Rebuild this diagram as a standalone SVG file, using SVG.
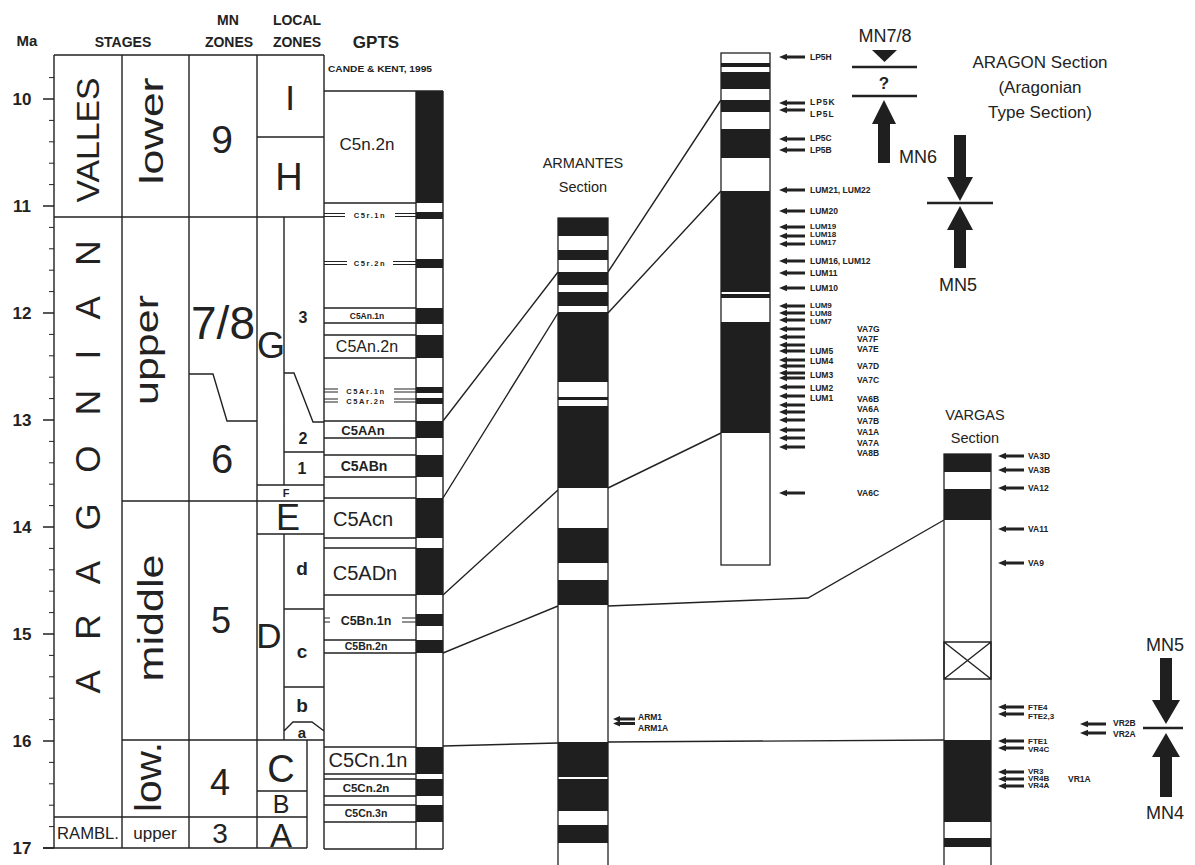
<svg xmlns="http://www.w3.org/2000/svg" width="1195" height="865" viewBox="0 0 1195 865">
<style>
.ln{stroke:#222;stroke-width:1.4;fill:none}
.lt{stroke:#222;stroke-width:1;fill:none}
.thk{stroke:#222;stroke-width:2.6;fill:none}
.bk{fill:#1f1f1f}
.wb{fill:#fff;stroke:#222;stroke-width:1.3}
text{font-family:"Liberation Sans",Arial,Helvetica,sans-serif;fill:#222}
.b{font-weight:bold}
.hd{font-size:14px;font-weight:bold;text-anchor:middle}
.ax{font-size:17px;font-weight:bold;text-anchor:middle}
.big{text-anchor:middle}
.sm{font-size:8.5px;font-weight:bold}
.xs{font-size:8px;font-weight:bold}
.tiny{font-size:7.5px;font-weight:bold;text-anchor:middle;letter-spacing:1.6px}
.gp{text-anchor:middle}
.ttl{font-size:14.5px;text-anchor:middle}
.mn{font-size:18px;text-anchor:middle}
</style>
<defs>
<path id="ar" d="M0,0 L8,-3.3 L8,-1.6 L26,-1.6 L26,1.6 L8,1.6 L8,3.3 Z" fill="#222"/>
<path id="ars" d="M0,0 L7,-3 L7,-1.4 L22,-1.4 L22,1.4 L7,1.4 L7,3 Z" fill="#222"/>
</defs>
<rect width="1195" height="865" fill="#fff"/>

<g id="axis">
<path class="ln" d="M54,55V848 M43,99H54 M43,206H54 M43,313H54 M43,420H54 M43,527H54 M43,634H54 M43,741H54 M43,848H54"/>
<path class="lt" d="M49,77.6H54 M49,120.4H54 M49,141.8H54 M49,163.2H54 M49,184.6H54 M49,227.4H54 M49,248.8H54 M49,270.2H54 M49,291.6H54 M49,334.4H54 M49,355.8H54 M49,377.2H54 M49,398.6H54 M49,441.4H54 M49,462.8H54 M49,484.2H54 M49,505.6H54 M49,548.4H54 M49,569.8H54 M49,591.2H54 M49,612.6H54 M49,655.4H54 M49,676.8H54 M49,698.2H54 M49,719.6H54 M49,762.4H54 M49,783.8H54 M49,805.2H54 M49,826.6H54"/>
<text class="b" x="27" y="46" font-size="15" text-anchor="middle">Ma</text>
<text class="ax" x="22" y="105">10</text>
<text class="ax" x="22" y="212">11</text>
<text class="ax" x="22" y="319">12</text>
<text class="ax" x="22" y="426">13</text>
<text class="ax" x="22" y="533">14</text>
<text class="ax" x="22" y="640">15</text>
<text class="ax" x="22" y="747">16</text>
<text class="ax" x="22" y="854">17</text>
</g>

<g id="headers">
<text class="hd" x="123" y="47">STAGES</text>
<text class="hd" x="228" y="25">MN</text>
<text class="hd" x="229" y="47">ZONES</text>
<text class="hd" x="297" y="25">LOCAL</text>
<text class="hd" x="297" y="47">ZONES</text>
<text class="b" x="376" y="48" font-size="17" text-anchor="middle">GPTS</text>
<text class="b" x="380" y="72" font-size="8.5" text-anchor="middle" textLength="104" lengthAdjust="spacingAndGlyphs">CANDE &amp; KENT, 1995</text>
</g>

<g id="stages-table">
<path class="ln" d="M54,55H324 M122,55V848 M189,55V848 M257,55V848 M324,55V849 M257,137H324 M54,217H324 M189,374H213L227,421H257 M284,217V485 M284,373H294L313,422H324 M284,452H324 M257,485H324 M122,501H324 M257,534H324 M284,534V740 M284,609H324 M284,687H324 M284,731L293,722H312L324,731 M122,740H324 M257,791H307 M54,817H307 M43,848H307 M307,740V848"/>
<text transform="translate(99,140) rotate(-90)" font-size="31" text-anchor="middle" textLength="125" lengthAdjust="spacingAndGlyphs">VALLES</text>
<text transform="translate(100,467) rotate(-90)" font-size="35" text-anchor="middle" textLength="453" lengthAdjust="spacing">ARAGONIAN</text>
<text transform="translate(163,131) rotate(-90)" font-size="34" text-anchor="middle" textLength="107" lengthAdjust="spacingAndGlyphs">lower</text>
<text transform="translate(158,350) rotate(-90)" font-size="33" text-anchor="middle" textLength="110" lengthAdjust="spacingAndGlyphs">upper</text>
<text transform="translate(163,618) rotate(-90)" font-size="35" text-anchor="middle" textLength="127" lengthAdjust="spacingAndGlyphs">middle</text>
<text transform="translate(161,777) rotate(-90)" font-size="36" text-anchor="middle" textLength="70" lengthAdjust="spacingAndGlyphs">low.</text>
<text x="88" y="839" font-size="16" text-anchor="middle" textLength="62" lengthAdjust="spacingAndGlyphs">RAMBL.</text>
<text x="155" y="839" font-size="17" text-anchor="middle">upper</text>
</g>

<g id="mn-zones">
<text class="big" x="222" y="153" font-size="39">9</text>
<text class="big" x="223" y="339" font-size="46">7/8</text>
<text class="big" x="222" y="473" font-size="40">6</text>
<text class="big" x="221" y="633" font-size="36">5</text>
<text class="big" x="220" y="795" font-size="36">4</text>
<text class="big" x="220" y="843" font-size="28">3</text>
</g>

<g id="local-zones">
<text class="big" x="290" y="110" font-size="35">I</text>
<text class="big" x="289" y="190" font-size="38">H</text>
<text class="big" x="271" y="358" font-size="36">G</text>
<text class="big b" x="303" y="323" font-size="16">3</text>
<text class="big b" x="303" y="444" font-size="16">2</text>
<text class="big b" x="302" y="474" font-size="16">1</text>
<text class="big b" x="286" y="497" font-size="11">F</text>
<text class="big" x="288" y="530" font-size="36">E</text>
<text class="big" x="269" y="648" font-size="35">D</text>
<text class="big b" x="302" y="575" font-size="19">d</text>
<text class="big b" x="302" y="658" font-size="19">c</text>
<text class="big b" x="302" y="712" font-size="19">b</text>
<text class="big b" x="302" y="738" font-size="15">a</text>
<text class="big" x="281" y="782" font-size="38">C</text>
<text class="big" x="281" y="813" font-size="25">B</text>
<text class="big" x="281" y="847" font-size="33">A</text>
</g>

<g id="gpts">
<rect class="bk" x="416" y="91" width="27" height="112"/>
<rect class="bk" x="416" y="212" width="27" height="7"/>
<rect class="bk" x="416" y="259" width="27" height="9"/>
<rect class="bk" x="416" y="308" width="27" height="16"/>
<rect class="bk" x="416" y="335" width="27" height="23"/>
<rect class="bk" x="416" y="387" width="27" height="6"/>
<rect class="bk" x="416" y="398" width="27" height="6"/>
<rect class="bk" x="416" y="421" width="27" height="17"/>
<rect class="bk" x="416" y="455" width="27" height="22"/>
<rect class="bk" x="416" y="498" width="27" height="40"/>
<rect class="bk" x="416" y="548" width="27" height="47"/>
<rect class="bk" x="416" y="614" width="27" height="12"/>
<rect class="bk" x="416" y="640" width="27" height="13"/>
<rect class="bk" x="416" y="747" width="27" height="27"/>
<rect class="bk" x="416" y="779" width="27" height="17"/>
<rect class="bk" x="416" y="805" width="27" height="17"/>
<path class="ln" d="M324,91H443 M416,91V849 M443,91V849 M324,849H443 M324,203H416 M324,308H416 M324,323H416 M324,335H416 M324,358H416 M324,421H416 M324,438H416 M324,455H416 M324,477H416 M324,498H416 M324,538H416 M324,548H416 M324,595H416 M324,640H416 M324,653H416 M324,747H416 M324,774H416 M324,779H416 M324,796H416 M324,805H416 M324,822H416"/>
<path class="lt" d="M324,213.5H345 M324,216.5H345 M395,213.5H416 M395,216.5H416 M324,261.5H347 M324,264.5H347 M393,261.5H416 M393,264.5H416 M324,389H338 M324,392H338 M394,389H416 M394,392H416 M324,399H338 M324,402H338 M394,399H416 M394,402H416 M324,618H330 M324,622H330 M402,618H416 M402,622H416"/>
<text class="gp" x="367" y="150" font-size="17">C5n.2n</text>
<text class="tiny" x="370" y="218">C5r.1n</text>
<text class="tiny" x="370" y="266">C5r.2n</text>
<text class="gp b" x="367" y="319" font-size="8.5">C5An.1n</text>
<text class="gp" x="367" y="352" font-size="16">C5An.2n</text>
<text class="tiny" x="366" y="393.5">C5Ar.1n</text>
<text class="tiny" x="366" y="403.5">C5Ar.2n</text>
<text class="gp b" x="363" y="435" font-size="13">C5AAn</text>
<text class="gp b" x="364" y="471" font-size="14">C5ABn</text>
<text class="gp" x="363" y="526" font-size="20">C5Acn</text>
<text class="gp" x="365" y="580" font-size="20">C5ADn</text>
<text class="gp b" x="366" y="625" font-size="12.5">C5Bn.1n</text>
<text class="gp b" x="366" y="650" font-size="10.5">C5Bn.2n</text>
<text class="gp" x="368" y="767" font-size="20">C5Cn.1n</text>
<text class="gp b" x="366" y="792" font-size="11.5">C5Cn.2n</text>
<text class="gp b" x="366" y="817" font-size="10.5">C5Cn.3n</text>
</g>

<g id="connectors">
<path class="ln" d="M443,421L558,272 M608,272L721,100 M443,498L558,313 M608,313L721,191 M443,595L558,490 M608,488L721,433 M443,653L558,606 M608,606L808,598L944,520 M443,746L558,743 M608,742L944,740"/>
</g>

<g id="armantes">
<text class="ttl" x="583" y="168">ARMANTES</text>
<text class="ttl" x="583" y="192">Section</text>
<rect class="wb" x="558" y="218" width="50" height="660"/>
<rect class="bk" x="558" y="218" width="50" height="18"/>
<rect class="bk" x="558" y="250" width="50" height="10"/>
<rect class="bk" x="558" y="272" width="50" height="13"/>
<rect class="bk" x="558" y="292" width="50" height="14"/>
<rect class="bk" x="558" y="312" width="50" height="70"/>
<rect class="bk" x="558" y="397" width="50" height="3"/>
<rect class="bk" x="558" y="406" width="50" height="82"/>
<rect class="bk" x="558" y="528" width="50" height="35"/>
<rect class="bk" x="558" y="580" width="50" height="25"/>
<rect class="bk" x="558" y="742" width="50" height="35"/>
<rect class="bk" x="558" y="779" width="50" height="32"/>
<rect class="bk" x="558" y="825" width="50" height="18"/>
<use href="#ars" x="613" y="719"/>
<use href="#ars" x="613" y="723.5"/>
<text class="sm" x="638" y="720">ARM1</text>
<text class="sm" x="638" y="731">ARM1A</text>
</g>

<g id="aragon">
<rect class="wb" x="721" y="53" width="49" height="512"/>
<rect class="bk" x="721" y="63" width="49" height="4"/>
<rect class="bk" x="721" y="72" width="49" height="17"/>
<rect class="bk" x="721" y="100" width="49" height="12"/>
<rect class="bk" x="721" y="129" width="49" height="29"/>
<rect class="bk" x="721" y="191" width="49" height="101"/>
<rect class="bk" x="721" y="294" width="49" height="4"/>
<rect class="bk" x="721" y="322" width="49" height="111"/>
<use href="#ar" x="779" y="57"/>
<use href="#ar" x="779" y="103"/>
<use href="#ar" x="779" y="110"/>
<use href="#ar" x="779" y="139"/>
<use href="#ar" x="779" y="150"/>
<use href="#ar" x="779" y="190"/>
<use href="#ar" x="779" y="211"/>
<use href="#ar" x="779" y="227"/>
<use href="#ar" x="779" y="236"/>
<use href="#ar" x="779" y="244"/>
<use href="#ar" x="779" y="261"/>
<use href="#ar" x="779" y="273"/>
<use href="#ar" x="779" y="288"/>
<use href="#ar" x="779" y="306"/>
<use href="#ar" x="779" y="313"/>
<use href="#ar" x="779" y="320"/>
<use href="#ar" x="779" y="329"/>
<use href="#ar" x="779" y="337"/>
<use href="#ar" x="779" y="345"/>
<use href="#ar" x="779" y="351"/>
<use href="#ar" x="779" y="360"/>
<use href="#ar" x="779" y="366"/>
<use href="#ar" x="779" y="373"/>
<use href="#ar" x="779" y="378"/>
<use href="#ar" x="779" y="387"/>
<use href="#ar" x="779" y="396"/>
<use href="#ar" x="779" y="405"/>
<use href="#ar" x="779" y="412"/>
<use href="#ar" x="779" y="420"/>
<use href="#ar" x="779" y="430"/>
<use href="#ar" x="779" y="438"/>
<use href="#ar" x="779" y="447"/>
<use href="#ar" x="779" y="493"/>
<text class="sm" x="810" y="60">LP5H</text>
<text class="sm" x="810" y="105" letter-spacing="1">LP5K</text>
<text class="sm" x="810" y="117" letter-spacing="1">LP5L</text>
<text class="sm" x="810" y="141">LP5C</text>
<text class="sm" x="810" y="153">LP5B</text>
<text class="sm" x="810" y="193">LUM21, LUM22</text>
<text class="sm" x="810" y="214">LUM20</text>
<text class="xs" x="810" y="229">LUM19</text>
<text class="xs" x="810" y="237">LUM18</text>
<text class="xs" x="810" y="245">LUM17</text>
<text class="sm" x="810" y="264">LUM16, LUM12</text>
<text class="sm" x="810" y="276">LUM11</text>
<text class="sm" x="810" y="291">LUM10</text>
<text class="xs" x="810" y="308">LUM9</text>
<text class="xs" x="810" y="316">LUM8</text>
<text class="xs" x="810" y="324">LUM7</text>
<text class="sm" x="810" y="354">LUM5</text>
<text class="sm" x="810" y="364">LUM4</text>
<text class="sm" x="810" y="378">LUM3</text>
<text class="sm" x="810" y="391">LUM2</text>
<text class="sm" x="810" y="401">LUM1</text>
<text class="sm" x="857" y="332">VA7G</text>
<text class="sm" x="857" y="342">VA7F</text>
<text class="sm" x="857" y="352">VA7E</text>
<text class="sm" x="857" y="369">VA7D</text>
<text class="sm" x="857" y="383">VA7C</text>
<text class="sm" x="857" y="402">VA6B</text>
<text class="sm" x="857" y="412">VA6A</text>
<text class="sm" x="857" y="424">VA7B</text>
<text class="sm" x="857" y="435">VA1A</text>
<text class="sm" x="857" y="446">VA7A</text>
<text class="sm" x="857" y="456">VA8B</text>
<text class="sm" x="857" y="496">VA6C</text>
</g>

<g id="aragon-title">
<text x="1040" y="68" font-size="17" text-anchor="middle">ARAGON Section</text>
<text x="1040" y="93" font-size="17" text-anchor="middle">(Aragonian</text>
<text x="1040" y="118" font-size="17" text-anchor="middle">Type Section)</text>
</g>

<g id="mn-aragon">
<text class="mn" x="885" y="42">MN7/8</text>
<polygon class="bk" points="872,50 897,50 884.5,62"/>
<path class="thk" d="M852,67H917 M852,96H917"/>
<text class="b" x="884" y="89" font-size="17" text-anchor="middle">?</text>
<polygon class="bk" points="884,100 896,124 890,124 890,163 878,163 878,124 872,124"/>
<text class="mn" x="918" y="163">MN6</text>
<polygon class="bk" points="954,135 966,135 966,177 973,177 960,201 947,177 954,177"/>
<path class="thk" d="M927,203H993"/>
<polygon class="bk" points="960,206 973,230 966,230 966,268 954,268 954,230 947,230"/>
<text class="mn" x="958" y="291">MN5</text>
</g>

<g id="vargas">
<text class="ttl" x="975" y="420">VARGAS</text>
<text class="ttl" x="975" y="443">Section</text>
<rect class="wb" x="944" y="454" width="47" height="424"/>
<rect class="bk" x="944" y="454" width="47" height="18"/>
<rect class="bk" x="944" y="489" width="47" height="31"/>
<rect class="bk" x="944" y="740" width="47" height="82"/>
<rect class="bk" x="944" y="838" width="47" height="9"/>
<path class="ln" d="M944,642H991V679H944Z M944,642L991,679 M991,642L944,679"/>
<use href="#ar" x="998" y="456"/>
<use href="#ar" x="998" y="470"/>
<use href="#ar" x="998" y="488"/>
<use href="#ar" x="998" y="529"/>
<use href="#ar" x="998" y="563"/>
<use href="#ar" x="998" y="707"/>
<use href="#ar" x="998" y="714"/>
<use href="#ar" x="998" y="741"/>
<use href="#ar" x="998" y="748"/>
<use href="#ar" x="998" y="772"/>
<use href="#ar" x="998" y="779"/>
<use href="#ar" x="998" y="786"/>
<text class="sm" x="1028" y="459">VA3D</text>
<text class="sm" x="1028" y="473">VA3B</text>
<text class="sm" x="1028" y="491">VA12</text>
<text class="sm" x="1028" y="532">VA11</text>
<text class="sm" x="1028" y="566">VA9</text>
<text class="xs" x="1028" y="710">FTE4</text>
<text class="xs" x="1028" y="719">FTE2,3</text>
<text class="xs" x="1028" y="744">FTE1</text>
<text class="xs" x="1028" y="752">VR4C</text>
<text class="xs" x="1028" y="774">VR3</text>
<text class="xs" x="1028" y="781">VR4B</text>
<text class="xs" x="1028" y="788">VR4A</text>
<text class="sm" x="1068" y="782">VR1A</text>
<use href="#ar" x="1080" y="724"/>
<use href="#ar" x="1080" y="733"/>
<text class="sm" x="1113" y="726">VR2B</text>
<text class="sm" x="1113" y="737">VR2A</text>
</g>

<g id="mn-vargas">
<text class="mn" x="1165" y="651">MN5</text>
<polygon class="bk" points="1160,658 1172,658 1172,700 1180,700 1166,724 1152,700 1160,700"/>
<path class="thk" d="M1143,728H1183"/>
<polygon class="bk" points="1166,733 1180,757 1172,757 1172,797 1160,797 1160,757 1152,757"/>
<text class="mn" x="1165" y="819">MN4</text>
</g>
</svg>
